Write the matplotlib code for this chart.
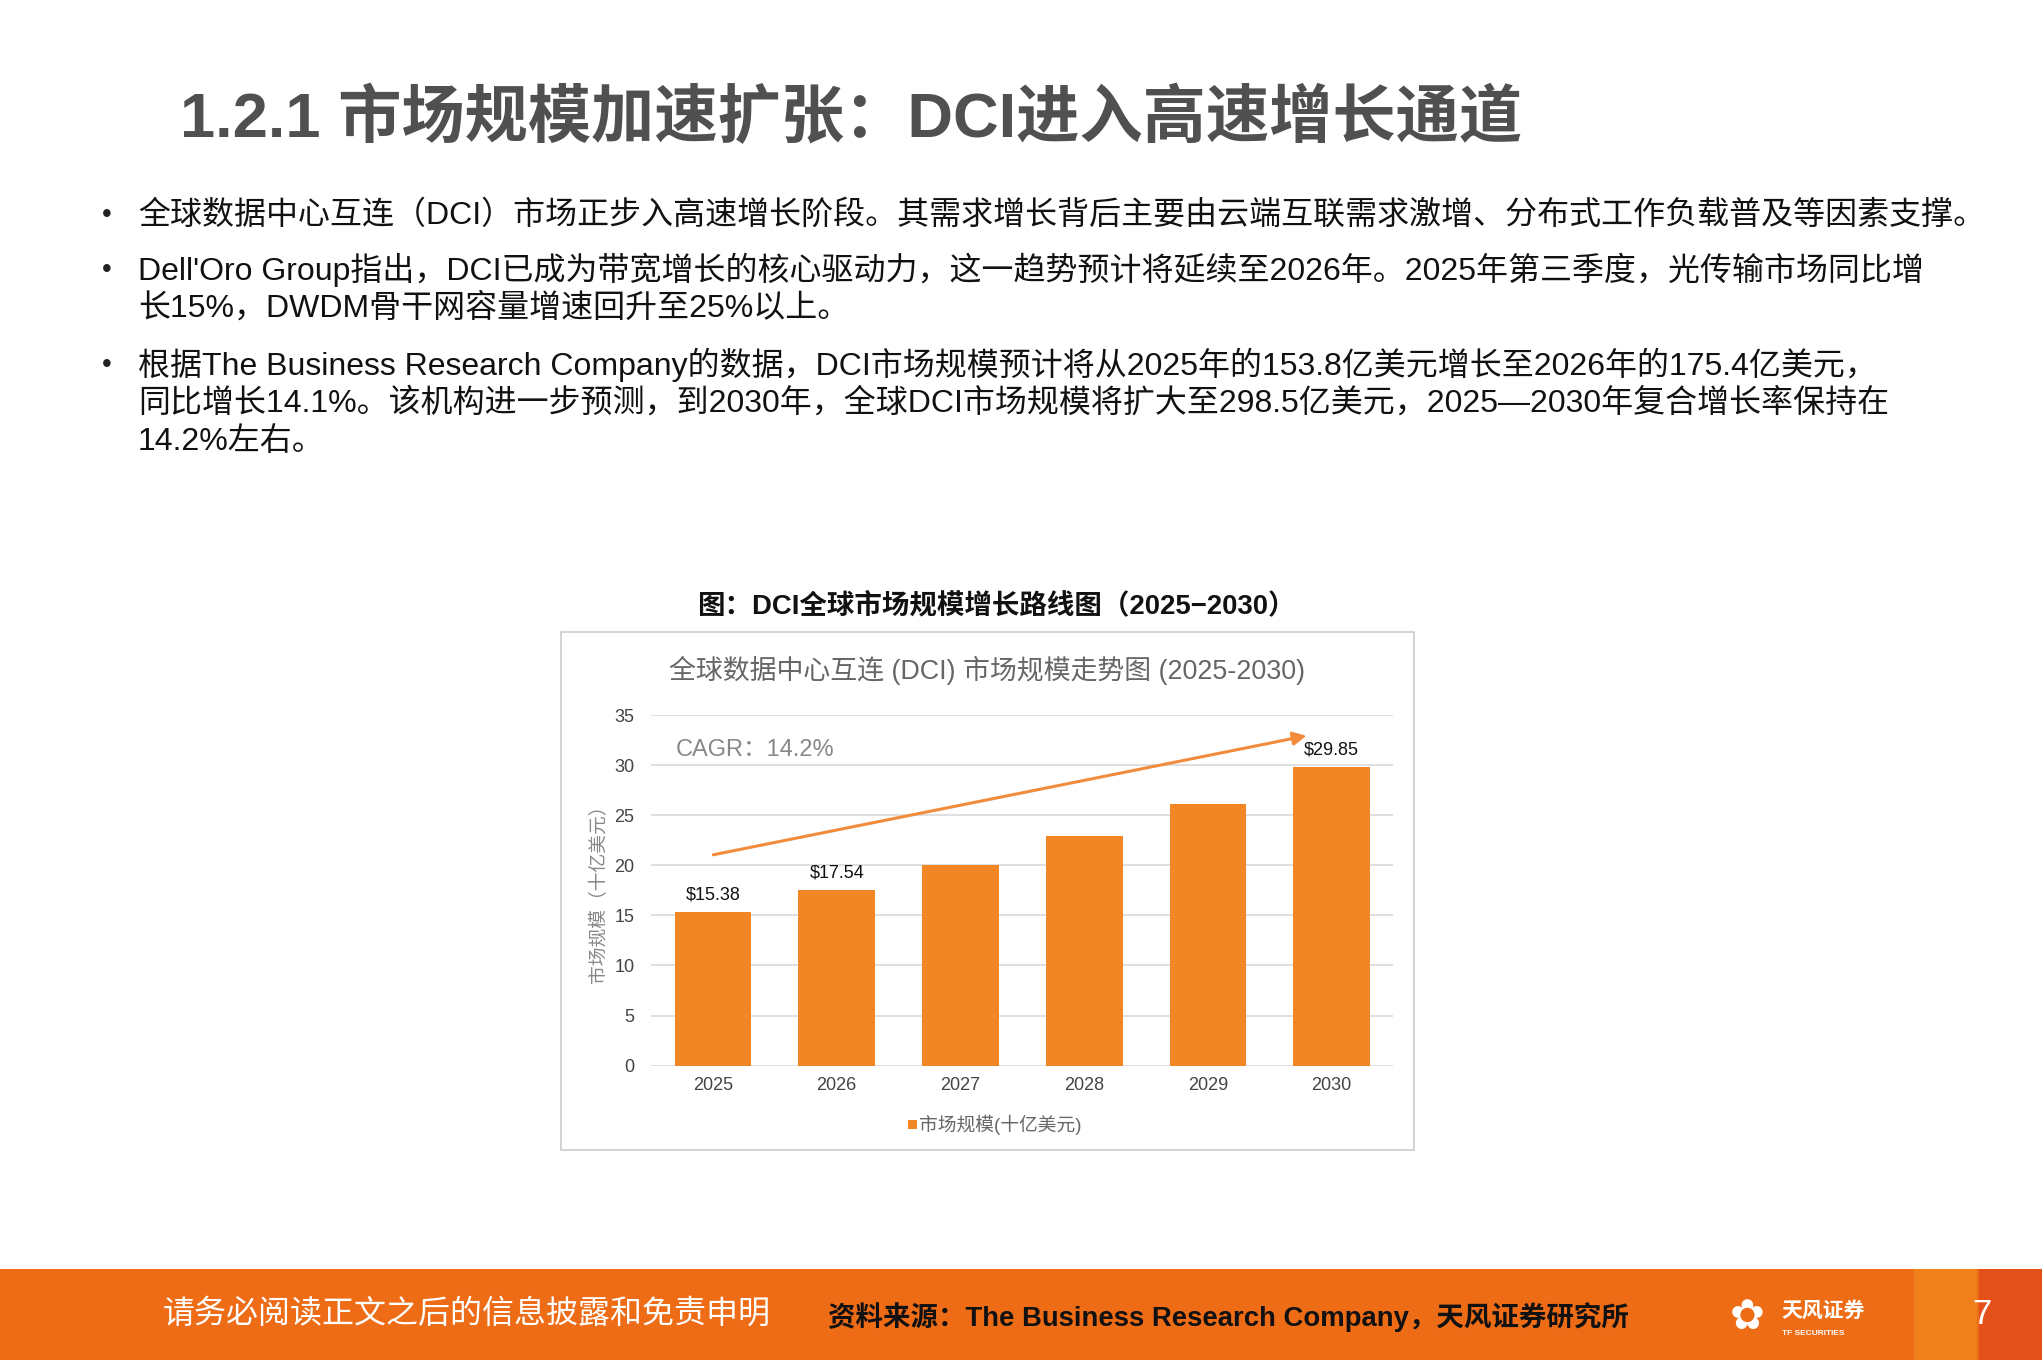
import matplotlib
matplotlib.use("Agg")
import matplotlib.pyplot as plt
from matplotlib.patches import Rectangle
import numpy as np

plt.rcParams['font.family'] = ['Liberation Sans', 'Noto Sans CJK SC', 'DejaVu Sans']

years = ['2025', '2026', '2027', '2028', '2029', '2030']
values = [15.38, 17.54, 20.05, 22.9, 26.15, 29.85]
labels = {0: '$15.38', 1: '$17.54', 5: '$29.85'}
yticks = [0, 5, 10, 15, 20, 25, 30, 35]

W, H = 1568, 1044
def fx(x): return x / W
def fy(y): return 1 - y / H

fig = plt.figure(figsize=(20.42, 13.60), dpi=100)
fig.patch.set_facecolor('white')

fig.text(fx(138), fy(92), '1.2.1 市场规模加速扩张：DCI进入高速增长通道', fontsize=45.5,
         fontweight='bold', color='#505050', va='center', ha='left')

bul = [
    (165, ['全球数据中心互连（DCI）市场正步入高速增长阶段。其需求增长背后主要由云端互联需求激增、分布式工作负载普及等因素支撑。']),
    (207, ["Dell'Oro Group指出，DCI已成为带宽增长的核心驱动力，这一趋势预计将延续至2026年。2025年第三季度，光传输市场同比增",
           '长15%，DWDM骨干网容量增速回升至25%以上。']),
    (280, ['根据The Business Research Company的数据，DCI市场规模预计将从2025年的153.8亿美元增长至2026年的175.4亿美元，',
           '同比增长14.1%。该机构进一步预测，到2030年，全球DCI市场规模将扩大至298.5亿美元，2025—2030年复合增长率保持在',
           '14.2%左右。']),
]
for y0, lines in bul:
    fig.text(fx(78), fy(y0), '•', fontsize=20, color='#222222', va='center')
    for i, ln in enumerate(lines):
        fig.text(fx(106), fy(y0 + i * 29.5), ln, fontsize=23, color='#111111', va='center')

fig.text(fx(765), fy(465), '图：DCI全球市场规模增长路线图（2025−2030）', fontsize=19.8,
         fontweight='bold', color='#111111', ha='center', va='center')

box = Rectangle((fx(431), fy(883)), fx(1086) - fx(431), fy(485) - fy(883),
                transform=fig.transFigure, facecolor='white', edgecolor='#cccccc', lw=1.2, zorder=0)
fig.add_artist(box)
fig.text(fx(758), fy(515), '全球数据中心互连 (DCI) 市场规模走势图 (2025-2030)', fontsize=19.4,
         color='#666666', ha='center', va='center')

ax = fig.add_axes([fx(500), fy(818), fx(1070) - fx(500), fy(549) - fy(818)], zorder=2)
ax.patch.set_alpha(0)
x = np.arange(len(years))
ax.bar(x, values, width=0.62, color='#F28524', zorder=3)
ax.set_ylim(0, 35)
ax.set_xlim(-0.5, 5.5)
ax.set_yticks(yticks)
ax.set_xticks(x)
ax.set_xticklabels(years)
ax.tick_params(axis='both', length=0, labelsize=13, colors='#444444')
ax.tick_params(axis='y', pad=12)
ax.tick_params(axis='x', pad=8)
ax.grid(axis='y', color='#d9d9d9', lw=1.2, zorder=0)
for s in ax.spines.values():
    s.set_visible(False)
for i, t in labels.items():
    ax.text(i, values[i] + 0.8, t, ha='center', va='bottom', fontsize=13, color='#111111')
ax.annotate('', xy=(4.82, 33.0), xytext=(-0.02, 21.0),
            arrowprops=dict(arrowstyle='-|>', color='#F28C3C', lw=2.2, mutation_scale=20))
ax.text(-0.3, 31.5, 'CAGR：14.2%', fontsize=17, color='#888888', va='center')
fig.text(fx(460), fy(683), '市场规模（十亿美元）', rotation=90, fontsize=13.5, color='#888888',
         ha='center', va='center')
fig.add_artist(Rectangle((fx(697), fy(867)), fx(7), fy(860) - fy(867),
                         transform=fig.transFigure, facecolor='#F28524'))
fig.text(fx(706), fy(863.5), '市场规模(十亿美元)', fontsize=13.5, color='#666666', va='center')

# footer
fig.add_artist(Rectangle((0, 0), 1, fy(974), transform=fig.transFigure,
                         facecolor='#EE6C16', edgecolor='none'))
for xx, c in [(1470, '#F0801A'), (1520, '#E4501A')]:
    fig.add_artist(Rectangle((fx(xx), 0), fx(48), fy(974), transform=fig.transFigure,
                             facecolor=c, edgecolor='none'))
fig.text(fx(125), fy(1009), '请务必阅读正文之后的信息披露和免责申明', fontsize=23, color='white', va='center')
fig.text(fx(636), fy(1011), '资料来源：The Business Research Company，天风证券研究所', fontsize=19.8,
         fontweight='bold', color='#111111', va='center')
fig.text(fx(1368), fy(1006), '天风证券', fontsize=15, fontweight='bold', color='white', va='center')
fig.text(fx(1368), fy(1024), 'TF SECURITIES', fontsize=6, fontweight='bold', color='white', va='center')
fig.text(fx(1342), fy(1011), '✿', fontsize=30, color='white', va='center', ha='center',
         family=['DejaVu Sans'])
fig.text(fx(1522), fy(1009), '7', fontsize=25, color='white', va='center', ha='center')

fig.savefig('out.png', dpi=100)
